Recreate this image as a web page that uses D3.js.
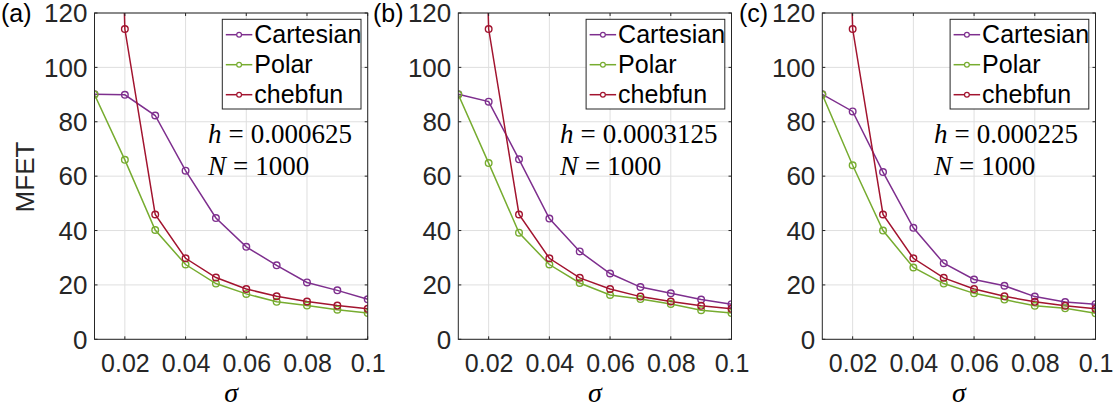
<!DOCTYPE html>
<html lang="en">
<head>
    <meta charset="UTF-8">
    <title>MFET vs sigma</title>
    <script src="https://cdn.jsdelivr.net/npm/d3@7"></script>
    <style>
        body {
            margin: 0;
            background: #fff;
        }
        text {
            font-family: "Liberation Sans", Arial, sans-serif;
            fill: #262626;
        }
        .grid line {
            stroke: #dfdfdf;
            stroke-width: 1px;
        }
        .frame {
            fill: none;
            stroke: #262626;
            stroke-width: 1px;
        }
        .tick-mark {
            stroke: #262626;
            stroke-width: 1px;
        }
        .math {
            font-family: "Liberation Serif", "Times New Roman", serif;
            fill: #000;
        }
    </style>
</head>
<body>
<div id="svgcontainer"></div>

<script>
    // ---- data ----
    const sigma = [0.01, 0.02, 0.03, 0.04, 0.05, 0.06, 0.07, 0.08, 0.09, 0.1];
    const xTicks = [0.02, 0.04, 0.06, 0.08, 0.1];
    const xTickLabels = ["0.02", "0.04", "0.06", "0.08", "0.1"];
    const yTicks = [0, 20, 40, 60, 80, 100, 120];
    const seriesNames = ["Cartesian", "Polar", "chebfun"];
    const panelLabels = ["(a)", "(b)", "(c)"];
    const hValues = ["0.000625", "0.0003125", "0.000225"];
    const nValues = ["1000", "1000", "1000"];

    const cartesianA = [90.1, 89.9, 82.3, 62.0, 44.6, 34.0, 27.2, 20.9, 18.0, 14.7];
    const polarA     = [90.0, 66.0, 40.2, 27.5, 20.5, 16.7, 13.8, 12.4, 10.9, 9.7];
    const chebfunA   = [500, 114.1, 45.9, 29.8, 22.7, 18.5, 15.8, 13.9, 12.4, 11.2];

    const cartesianB = [90.1, 87.4, 66.2, 44.4, 32.3, 24.2, 19.2, 16.9, 14.6, 12.9];
    const polarB     = [90.0, 64.8, 39.2, 27.5, 20.7, 16.3, 14.8, 13.0, 10.7, 9.7];
    const chebfunB   = [500, 114.1, 45.9, 29.8, 22.6, 18.5, 15.7, 13.9, 12.3, 11.2];

    const cartesianC = [90.1, 83.8, 61.5, 41.0, 28.0, 22.0, 19.7, 15.7, 13.7, 12.9];
    const polarC     = [90.0, 64.0, 40.0, 26.4, 20.5, 16.9, 14.6, 12.3, 11.4, 9.6];
    const chebfunC   = [500, 114.1, 45.9, 29.8, 22.6, 18.5, 15.8, 13.8, 12.3, 11.2];

    const panels = [
        [cartesianA, polarA, chebfunA],
        [cartesianB, polarB, chebfunB],
        [cartesianC, polarC, chebfunC]
    ];

    // ---- layout ----
    const width = 1118;
    const height = 414;
    const PLOT_LEFTS = [94.5, 458.3, 822.3];
    const PLOT_WIDTH = 273.2;
    const PLOT_TOP = 13;
    const PLOT_BOTTOM = 339.3;
    const LABEL_X = [1, 373, 739];
    const NOTE_SIGMA = [0.0474, 0.0435, 0.0468];
    const COLORS = ["#7e2f8e", "#77ac30", "#a2142f"];
    const TICK_LEN = 3;

    const svg = d3.select("#svgcontainer")
        .append("svg")
        .attr("width", width)
        .attr("height", height);

    panels.forEach(function (series, p) {
        const left = PLOT_LEFTS[p];
        const right = left + PLOT_WIDTH;

        const x = d3.scaleLinear().domain([0.01, 0.1]).range([left, right]);
        const y = d3.scaleLinear().domain([0, 120]).range([PLOT_BOTTOM, PLOT_TOP]);

        const g = svg.append("g").attr("class", "panel");

        g.append("clipPath")
            .attr("id", "clip" + p)
            .append("rect")
            .attr("x", left)
            .attr("y", PLOT_TOP)
            .attr("width", PLOT_WIDTH)
            .attr("height", PLOT_BOTTOM - PLOT_TOP);

        // grid
        const grid = g.append("g").attr("class", "grid");
        grid.selectAll("line.gx")
            .data(xTicks)
            .enter().append("line")
            .attr("x1", d => x(d)).attr("x2", d => x(d))
            .attr("y1", PLOT_TOP).attr("y2", PLOT_BOTTOM);
        grid.selectAll("line.gy")
            .data(yTicks)
            .enter().append("line")
            .attr("class", "gy")
            .attr("x1", left).attr("x2", right)
            .attr("y1", d => y(d)).attr("y2", d => y(d));

        // axes (labels only, inward ticks drawn below)
        const xAxis = d3.axisBottom(x)
            .tickValues(xTicks)
            .tickFormat((d, i) => xTickLabels[i])
            .tickSize(0)
            .tickPadding(0);
        const xg = g.append("g")
            .attr("transform", "translate(0," + PLOT_BOTTOM + ")")
            .call(xAxis);
        xg.select(".domain").remove();
        xg.selectAll("text")
            .attr("dy", null)
            .attr("y", 32.4)
            .style("font-size", "25px")
            .attr("fill", "#262626");

        const yAxis = d3.axisLeft(y)
            .tickValues(yTicks)
            .tickSize(0)
            .tickPadding(7);
        const yg = g.append("g")
            .attr("transform", "translate(" + left + ",0)")
            .call(yAxis);
        yg.select(".domain").remove();
        yg.selectAll("text")
            .attr("dy", "0.34em")
            .style("font-size", "26px")
            .attr("fill", "#262626");

        // data lines
        const plot = g.append("g").attr("clip-path", "url(#clip" + p + ")");
        const line = d3.line()
            .x((d, i) => x(sigma[i]))
            .y(d => y(d));

        series.forEach(function (values, s) {
            plot.append("path")
                .datum(values)
                .attr("fill", "none")
                .attr("stroke", COLORS[s])
                .attr("stroke-width", 1.5)
                .attr("d", line);
        });
        series.forEach(function (values, s) {
            plot.selectAll("circle.s" + s)
                .data(values)
                .enter().append("circle")
                .attr("class", "s" + s)
                .attr("cx", (d, i) => x(sigma[i]))
                .attr("cy", d => y(d))
                .attr("r", 3.3)
                .attr("fill", "none")
                .attr("stroke", COLORS[s])
                .attr("stroke-width", 1.4);
        });

        // frame + inward ticks on all sides
        g.append("rect")
            .attr("class", "frame")
            .attr("x", left)
            .attr("y", PLOT_TOP)
            .attr("width", PLOT_WIDTH)
            .attr("height", PLOT_BOTTOM - PLOT_TOP);

        xTicks.forEach(function (t) {
            g.append("line").attr("class", "tick-mark")
                .attr("x1", x(t)).attr("x2", x(t))
                .attr("y1", PLOT_BOTTOM).attr("y2", PLOT_BOTTOM - TICK_LEN);
            g.append("line").attr("class", "tick-mark")
                .attr("x1", x(t)).attr("x2", x(t))
                .attr("y1", PLOT_TOP).attr("y2", PLOT_TOP + TICK_LEN);
        });
        yTicks.forEach(function (t) {
            g.append("line").attr("class", "tick-mark")
                .attr("x1", left).attr("x2", left + TICK_LEN)
                .attr("y1", y(t)).attr("y2", y(t));
            g.append("line").attr("class", "tick-mark")
                .attr("x1", right).attr("x2", right - TICK_LEN)
                .attr("y1", y(t)).attr("y2", y(t));
        });

        // annotation
        const noteX = x(NOTE_SIGMA[p]);
        const note1 = g.append("text").attr("class", "math")
            .attr("x", noteX).attr("y", 143)
            .style("font-size", "27px");
        note1.append("tspan").style("font-style", "italic").text("h");
        note1.append("tspan").attr("dx", 7).text("=");
        note1.append("tspan").attr("dx", 7).text(hValues[p]);

        const note2 = g.append("text").attr("class", "math")
            .attr("x", noteX).attr("y", 175)
            .style("font-size", "27px");
        note2.append("tspan").style("font-style", "italic").text("N");
        note2.append("tspan").attr("dx", 7).text("=");
        note2.append("tspan").attr("dx", 7).text(nValues[p]);

        // legend
        const LEG_W = 138.7, LEG_H = 89.7;
        const legX = right - 6.7 - LEG_W;
        const legY = PLOT_TOP + 6.3;
        const leg = g.append("g").attr("transform", "translate(" + legX + "," + legY + ")");
        leg.append("rect")
            .attr("width", LEG_W)
            .attr("height", LEG_H)
            .attr("fill", "#fff")
            .attr("stroke", "#262626")
            .attr("stroke-width", 1);
        seriesNames.forEach(function (name, s) {
            const cy = 15.4 + s * 30;
            leg.append("line")
                .attr("x1", 3.5).attr("x2", 30)
                .attr("y1", cy).attr("y2", cy)
                .attr("stroke", COLORS[s]).attr("stroke-width", 1.5);
            leg.append("circle")
                .attr("cx", 16.8).attr("cy", cy).attr("r", 2.4)
                .attr("fill", "#fff")
                .attr("stroke", COLORS[s]).attr("stroke-width", 1.2);
            leg.append("text")
                .attr("x", 32)
                .attr("y", cy)
                .attr("dy", "0.35em")
                .style("font-size", "25px")
                .style("fill", "#000")
                .text(name);
        });

        // sigma label
        g.append("text").attr("class", "math")
            .attr("x", (left + right) / 2)
            .attr("y", 402)
            .attr("text-anchor", "middle")
            .style("font-size", "28px")
            .style("font-style", "italic")
            .text("σ");

        // panel label
        g.append("text")
            .attr("x", LABEL_X[p])
            .attr("y", 22)
            .style("font-size", "25px")
            .style("fill", "#000")
            .text(panelLabels[p]);
    });

    // y label
    svg.append("text")
        .attr("transform", "translate(34,177) rotate(-90)")
        .attr("text-anchor", "middle")
        .style("font-size", "26px")
        .text("MFET");
</script>
</body>
</html>
